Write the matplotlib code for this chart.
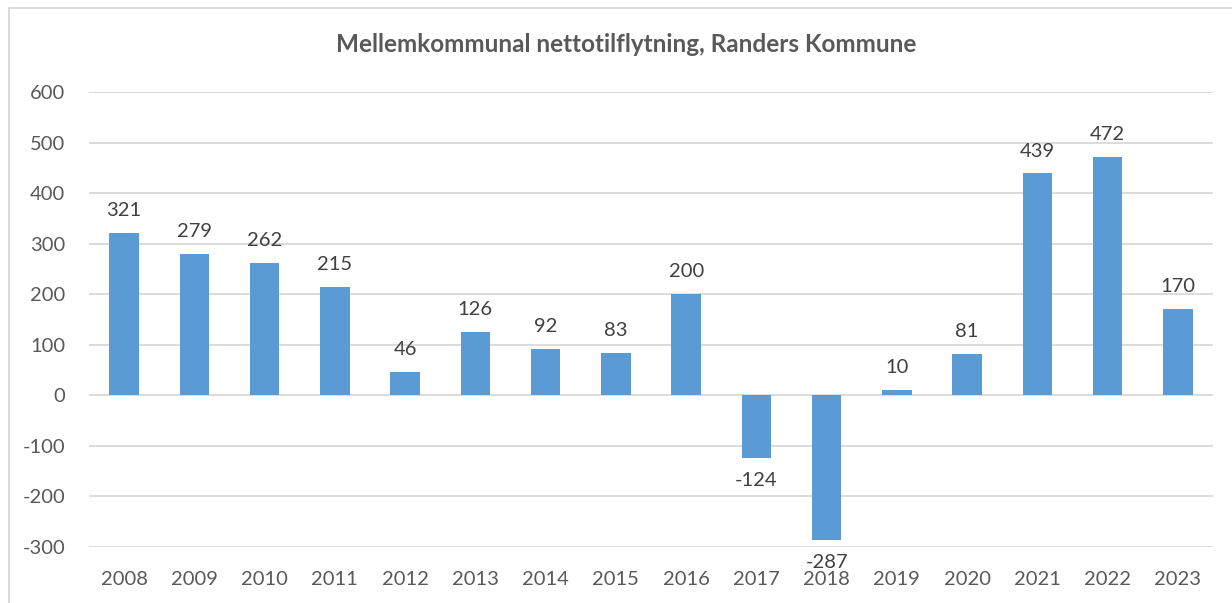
import matplotlib
matplotlib.use("Agg")
import matplotlib.pyplot as plt
from matplotlib.patches import Rectangle

years = ["2008", "2009", "2010", "2011", "2012", "2013", "2014", "2015",
         "2016", "2017", "2018", "2019", "2020", "2021", "2022", "2023"]
values = [321, 279, 262, 215, 46, 126, 92, 83, 200, -124, -287, 10, 81, 439, 472, 170]
yticks = [-300, -200, -100, 0, 100, 200, 300, 400, 500, 600]
title = "Mellemkommunal nettotilflytning, Randers Kommune"

plt.rcParams['font.family'] = ['Lato', 'DejaVu Sans']

W, H = 1232, 603
fig = plt.figure(figsize=(W / 100, H / 100), dpi=100)
ax = fig.add_axes([89 / W, 1 - 547 / H, (1213 - 89) / W, (547 - 92) / H])

x = list(range(len(years)))
ax.bar(x, values, width=0.42, color="#5B9BD5", zorder=3)
ax.set_xlim(-0.5, len(years) - 0.5)
ax.set_ylim(-300, 600)
ax.set_yticks(yticks)
ax.set_yticklabels([str(t) for t in yticks])
ax.set_xticks(x)
ax.set_xticklabels(years)
ax.tick_params(axis="both", length=0, labelsize=14.5, labelcolor="#595959")
ax.tick_params(axis="x", pad=17)
ax.tick_params(axis="y", pad=17)
ax.grid(axis="y", color="#D9D9D9", linewidth=1.3, zorder=0)
for s in ax.spines.values():
    s.set_visible(False)

for xi, v in zip(x, values):
    if v >= 0:
        ax.annotate(str(v), (xi, v), xytext=(0, 10), textcoords="offset points",
                    ha="center", va="bottom", fontsize=14.5, color="#404040")
    else:
        ax.annotate(str(v), (xi, v), xytext=(0, -10), textcoords="offset points",
                    ha="center", va="top", fontsize=14.5, color="#404040")

fig.text(626 / W, 1 - 45 / H, title, ha="center", va="center",
         fontsize=17.5, fontweight="bold", color="#595959")

fig.patches.append(Rectangle((9 / W, -0.1), 1.2, 1 - 8 / H + 0.1,
                             transform=fig.transFigure, fill=False,
                             edgecolor="#D9D9D9", linewidth=1.3))

fig.savefig("out.png", dpi=100, facecolor="white")
